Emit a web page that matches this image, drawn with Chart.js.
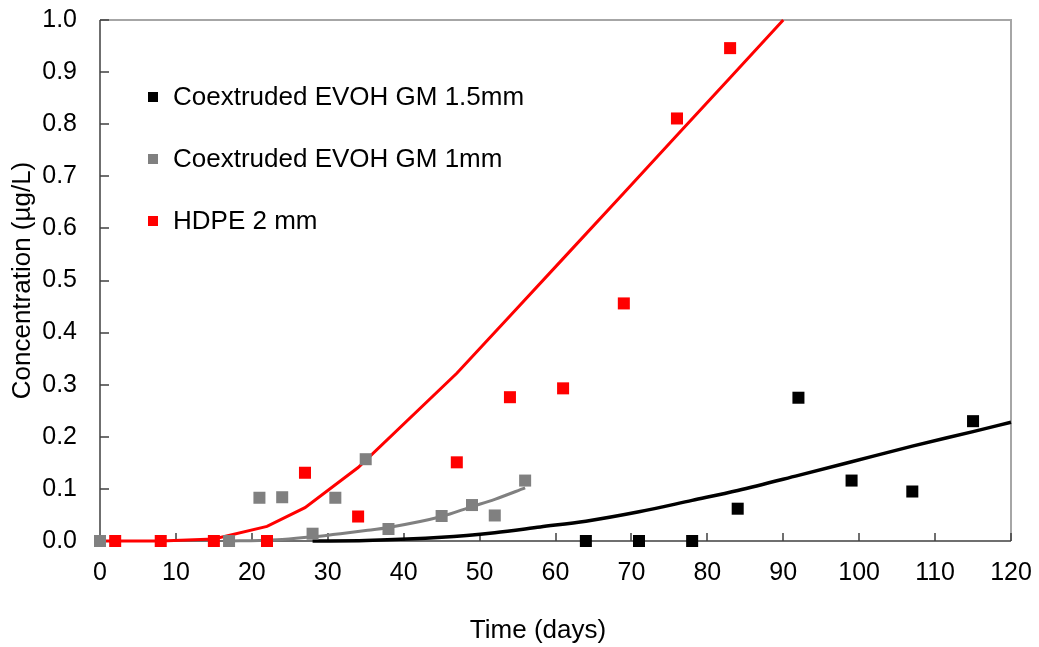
<!DOCTYPE html>
<html>
<head>
<meta charset="utf-8">
<script src="https://cdn.jsdelivr.net/npm/chart.js@4.4.0/dist/chart.umd.min.js"></script>
<style>
  body { margin: 0; background: #fff; }
  #wrap { width: 1039px; height: 647px; }
</style>
</head>
<body>
<div id="wrap"><canvas id="chart" width="1039" height="647"></canvas></div>
<script>
// measured points
const evoh15Days = [64, 71, 78, 84, 92, 99, 107, 115];
const evoh15Conc = [0, 0, 0, 0.062, 0.275, 0.116, 0.095, 0.230];

const evoh1Days = [0, 17, 21, 24, 28, 31, 35, 38, 45, 49, 52, 56];
const evoh1Conc = [0, 0, 0.083, 0.084, 0.014, 0.083, 0.157, 0.023, 0.048, 0.069, 0.049, 0.116];

const hdpeDays = [2, 8, 15, 22, 27, 34, 47, 54, 61, 69, 76, 83];
const hdpeConc = [0, 0, 0, 0, 0.131, 0.047, 0.151, 0.276, 0.293, 0.456, 0.811, 0.946];

// model curves
const evoh15FitDays = [28, 35, 45, 52, 58, 64, 71, 78, 84, 92, 99, 107, 115, 120];
const evoh15FitConc = [0, 0.001, 0.007, 0.016, 0.027, 0.038, 0.056, 0.078, 0.097, 0.126, 0.152, 0.182, 0.210, 0.228];

const evoh1FitDays = [17, 21, 24, 28, 31, 35, 38, 45, 49, 52, 56];
const evoh1FitConc = [0, 0.001, 0.003, 0.008, 0.013, 0.020, 0.026, 0.047, 0.066, 0.080, 0.102];

const hdpeFitDays = [0, 2, 8, 15, 22, 27, 34, 47, 54, 61, 69, 76, 83, 90];
const hdpeFitConc = [0, 0, 0, 0.004, 0.028, 0.064, 0.141, 0.322, 0.432, 0.542, 0.668, 0.779, 0.889, 1.0];

const seriesNames = ["Coextruded EVOH GM 1.5mm", "Coextruded EVOH GM 1mm", "HDPE 2 mm"];
const seriesColors = ["#000000", "#808080", "#ff0000"];

const xTicks = [0, 10, 20, 30, 40, 50, 60, 70, 80, 90, 100, 110, 120];
const yTicks = [0, 0.1, 0.2, 0.3, 0.4, 0.5, 0.6, 0.7, 0.8, 0.9, 1.0];

const xTitle = "Time (days)";
const yTitle = "Concentration (µg/L)";

const FONT = "'Liberation Sans', Arial, sans-serif";

function pts(xs, ys) {
  return xs.map((x, i) => ({ x: x, y: ys[i] }));
}

function markers(i, xs, ys, order) {
  return {
    label: seriesNames[i],
    data: pts(xs, ys),
    showLine: false,
    pointStyle: "rect",
    pointRadius: 8.5,
    pointBorderWidth: 0,
    pointBackgroundColor: seriesColors[i],
    backgroundColor: seriesColors[i],
    order: order,
    clip: false,
    isMarker: true
  };
}

function curve(i, xs, ys, width, smooth, order) {
  return {
    label: seriesNames[i] + " fit",
    data: pts(xs, ys),
    showLine: true,
    borderColor: seriesColors[i],
    borderWidth: width,
    pointRadius: 0,
    tension: 0,
    cubicInterpolationMode: smooth ? "monotone" : "default",
    order: order,
    clip: false
  };
}

// no extra room for overhanging tick labels
function noPad(s) {
  s.paddingLeft = 0;
  s.paddingRight = 0;
  s.paddingTop = 0;
  s.paddingBottom = 0;
}

// frame, inside ticks, x title and the legend inside the plot
const framePlugin = {
  id: "frame",
  beforeDatasetsDraw(chart) {
    const { ctx, chartArea: a, scales } = chart;
    ctx.save();
    ctx.lineWidth = 2;
    ctx.strokeStyle = "#a6a6a6";
    ctx.beginPath();
    ctx.moveTo(a.left, a.top);
    ctx.lineTo(a.right, a.top);
    ctx.lineTo(a.right, a.bottom);
    ctx.stroke();
    ctx.strokeStyle = "#404040";
    ctx.lineWidth = 1.5;
    ctx.beginPath();
    ctx.moveTo(a.left, a.top);
    ctx.lineTo(a.left, a.bottom);
    ctx.lineTo(a.right, a.bottom);
    for (const v of yTicks) {
      const y = Math.round(scales.y.getPixelForValue(v));
      ctx.moveTo(a.left, y);
      ctx.lineTo(a.left + 9, y);
    }
    for (const v of xTicks) {
      const x = Math.round(scales.x.getPixelForValue(v));
      ctx.moveTo(x, a.bottom);
      ctx.lineTo(x, a.bottom - 8);
    }
    ctx.stroke();
    ctx.restore();
  },
  afterDraw(chart) {
    const { ctx } = chart;
    const items = chart.data.datasets.filter(d => d.isMarker)
      .sort((p, q) => seriesNames.indexOf(p.label) - seriesNames.indexOf(q.label));
    ctx.save();
    ctx.font = "26px " + FONT;
    ctx.textBaseline = "middle";
    items.forEach((d, i) => {
      const y = 97 + i * 62;
      ctx.fillStyle = d.backgroundColor;
      ctx.fillRect(148, y - 5, 10, 10);
      ctx.fillStyle = "#000";
      ctx.fillText(d.label, 173, y + 1);
    });
    // x title sits a little left of the plot centre
    ctx.textAlign = "center";
    ctx.fillText(xTitle, 538, 631);
    ctx.restore();
  }
};

new Chart(document.getElementById("chart"), {
  type: "scatter",
  data: {
    datasets: [
      markers(2, hdpeDays, hdpeConc, 0),
      markers(1, evoh1Days, evoh1Conc, 1),
      markers(0, evoh15Days, evoh15Conc, 2),
      curve(2, hdpeFitDays, hdpeFitConc, 3, false, 3),
      curve(1, evoh1FitDays, evoh1FitConc, 3, true, 4),
      curve(0, evoh15FitDays, evoh15FitConc, 3.5, true, 5)
    ]
  },
  options: {
    responsive: false,
    animation: false,
    layout: { padding: { top: 20, right: 28, left: 0, bottom: 0 } },
    plugins: {
      legend: { display: false },
      tooltip: { enabled: false }
    },
    scales: {
      x: {
        type: "linear",
        min: 0,
        max: 120,
        afterFit(s) { s.height = 106; noPad(s); },
        afterBuildTicks(s) { s.ticks = xTicks.map(v => ({ value: v })); },
        grid: { display: false, drawTicks: false },
        border: { display: false },
        ticks: { color: "#000", padding: 17, font: { family: FONT, size: 25 } },
        title: { display: false, text: xTitle }
      },
      y: {
        type: "linear",
        min: 0,
        max: 1,
        afterFit(s) { s.width = 100; noPad(s); },
        afterBuildTicks(s) { s.ticks = yTicks.map(v => ({ value: v })); },
        grid: { display: false, drawTicks: false },
        border: { display: false },
        ticks: {
          color: "#000",
          padding: 23,
          font: { family: FONT, size: 25 },
          callback: v => v.toFixed(1)
        },
        title: {
          display: true,
          text: yTitle,
          color: "#000",
          padding: { top: 7, bottom: 0 },
          font: { family: FONT, size: 26 }
        }
      }
    }
  },
  plugins: [framePlugin]
});
</script>
</body>
</html>
